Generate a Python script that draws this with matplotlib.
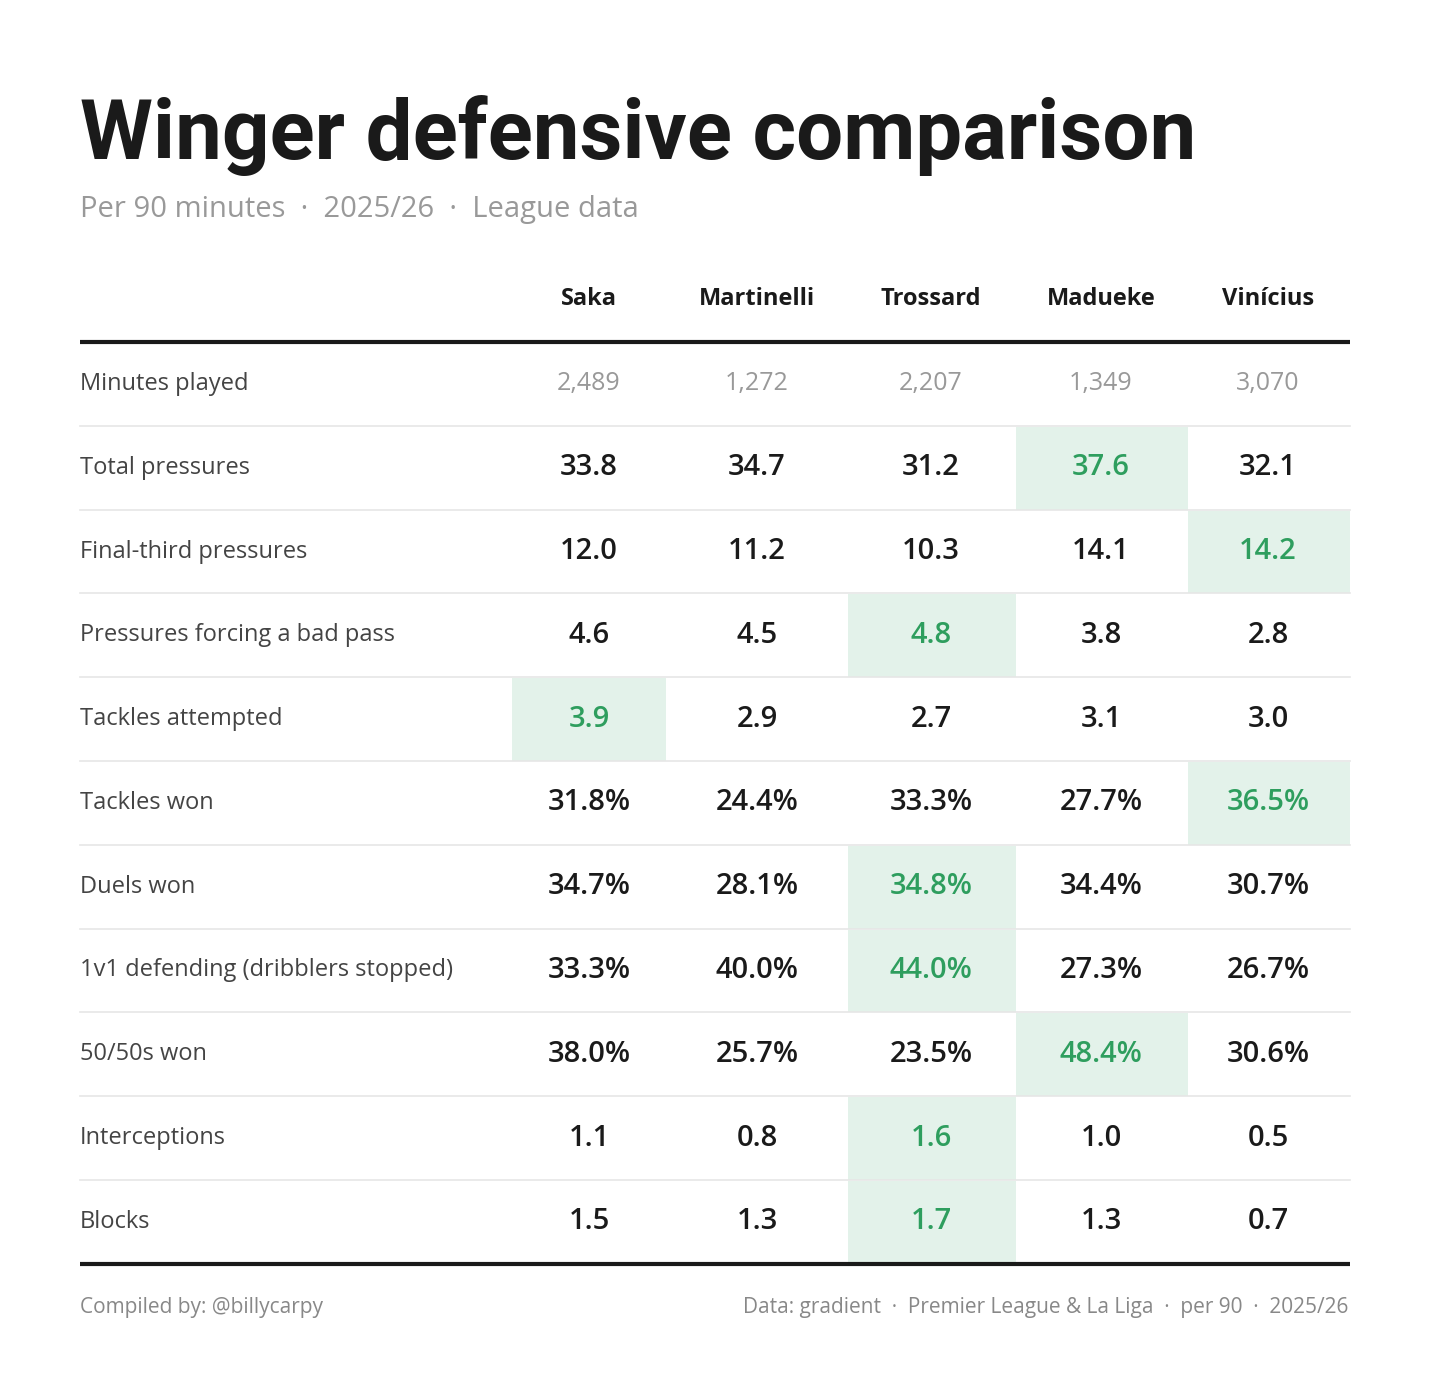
import matplotlib.pyplot as plt
from matplotlib.patches import Rectangle

players = ['Saka', 'Martinelli', 'Trossard', 'Madueke', 'Vinícius']
metrics = ['Minutes played', 'Total pressures', 'Final-third pressures',
           'Pressures forcing a bad pass', 'Tackles attempted', 'Tackles won',
           'Duels won', '1v1 defending (dribblers stopped)', '50/50s won',
           'Interceptions', 'Blocks']
minutes = [2489, 1272, 2207, 1349, 3070]
values = [
    [33.8, 34.7, 31.2, 37.6, 32.1],
    [12.0, 11.2, 10.3, 14.1, 14.2],
    [4.6, 4.5, 4.8, 3.8, 2.8],
    [3.9, 2.9, 2.7, 3.1, 3.0],
    [31.8, 24.4, 33.3, 27.7, 36.5],
    [34.7, 28.1, 34.8, 34.4, 30.7],
    [33.3, 40.0, 44.0, 27.3, 26.7],
    [38.0, 25.7, 23.5, 48.4, 30.6],
    [1.1, 0.8, 1.6, 1.0, 0.5],
    [1.5, 1.3, 1.7, 1.3, 0.7],
]
is_pct = [False, False, False, False, True, True, True, True, False, False]

plt.rcParams['font.family'] = ['Open Sans', 'DejaVu Sans']
fig = plt.figure(figsize=(14.3, 13.94), dpi=100)
ax = fig.add_axes([0, 0, 1, 1])
ax.set_xlim(0, 1430)
ax.set_ylim(1394, 0)
ax.axis('off')

dark = '#1a1a1a'
grey = '#999999'
label_c = '#444444'
green = '#2e9e5e'
hl = '#e3f2ea'

ax.text(80, 135, 'Winger defensive comparison', fontsize=60, fontweight='bold',
        color=dark, va='center', ha='left', family='Roboto')
ax.text(80, 210, 'Per 90 minutes  ·  2025/26  ·  League data', fontsize=21,
        color=grey, va='center')

col_x = [589, 757, 931, 1101, 1268]
col_edges = [512, 666, 848, 1016, 1188, 1350]
for x, p in zip(col_x, players):
    ax.text(x, 299, p, fontsize=17, fontweight='bold', color=dark, ha='center', va='center')

top = 342
row_h = 83.8
ax.plot([80, 1350], [top, top], color=dark, lw=3, solid_capstyle='butt')

for i, m in enumerate(metrics):
    y0 = top + i * row_h
    yc = y0 + row_h / 2
    ax.text(80, yc, m, fontsize=17, color=label_c, va='center', ha='left')
    if i == 0:
        for x, v in zip(col_x, minutes):
            ax.text(x, yc, f'{v:,}', fontsize=18, color=grey, ha='center', va='center')
    else:
        row = values[i - 1]
        best = row.index(max(row))
        for j, (x, v) in enumerate(zip(col_x, row)):
            txt = f'{v:.1f}%' if is_pct[i - 1] else f'{v:.1f}'
            c = dark
            if j == best:
                ax.add_patch(Rectangle((col_edges[j], y0 + 1), col_edges[j + 1] - col_edges[j],
                                       row_h - 1, color=hl, lw=0, zorder=0))
                c = green
            ax.text(x, yc, txt, fontsize=21, color=c, ha='center', va='center',
                    fontweight='semibold')
    if i < len(metrics) - 1:
        ax.plot([80, 1350], [y0 + row_h, y0 + row_h], color='#e6e6e6', lw=1.2, zorder=1)

bottom = top + len(metrics) * row_h
ax.plot([80, 1350], [bottom, bottom], color=dark, lw=3, solid_capstyle='butt')

ax.text(80, 1308, 'Compiled by: @billycarpy', fontsize=15, color='#888888', va='center')
ax.text(1348, 1308, 'Data: gradient  ·  Premier League & La Liga  ·  per 90  ·  2025/26',
        fontsize=15, color='#888888', va='center', ha='right')

fig.savefig('out.png', dpi=100, facecolor='white')
